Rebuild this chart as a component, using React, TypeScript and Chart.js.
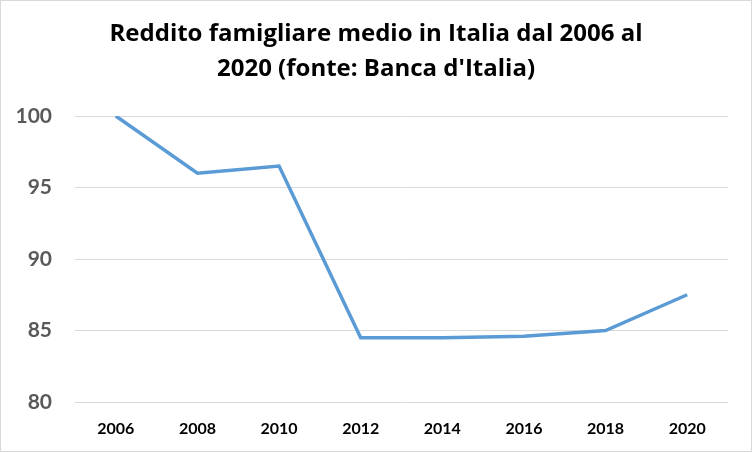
import React, { useEffect, useRef } from "react";
import { Chart, registerables } from "chart.js";

Chart.register(...registerables);

const years = ["2006", "2008", "2010", "2012", "2014", "2016", "2018", "2020"];
const income = [100, 96, 96.5, 84.5, 84.5, 84.6, 85, 87.5];
const yMin = 80;
const yMax = 100;
const yStep = 5;
const titleLines = ["Reddito famigliare medio in Italia dal 2006 al", "2020 (fonte: Banca d'Italia)"];

export default function App() {
  const ref = useRef<HTMLCanvasElement>(null);
  useEffect(() => {
    document.body.style.margin = "0";
    const ctx = ref.current!;
    const chart = new Chart(ctx, {
      type: "line",
      data: {
        labels: years,
        datasets: [
          {
            data: income,
            borderColor: "#5B9BD5",
            borderWidth: 3.5,
            pointRadius: 0,
            tension: 0,
            fill: false,
          },
        ],
      },
      options: {
        animation: false,
        responsive: false,
        maintainAspectRatio: false,
        layout: { padding: { left: 0, right: 0, top: 0, bottom: 0 } },
        plugins: {
          legend: { display: false },
          tooltip: { enabled: false },
          title: {
            display: true,
            text: titleLines,
            color: "#000000",
            font: { family: "'Open Sans', Lato, sans-serif", size: 24, weight: "bold", lineHeight: 35 / 24 },
            padding: { top: 15.5, bottom: 29.5 },
          },
        },
        scales: {
          x: {
            offset: true,
            grid: { display: false, drawTicks: false },
            border: { display: false },
            afterFit: (scale: any) => {
              scale.height = 49;
            },
            ticks: {
              color: "#000000",
              font: { family: "Lato, 'Open Sans', sans-serif", size: 16, weight: "bold" },
              padding: 17,
              maxRotation: 0,
            },
          },
          y: {
            min: yMin,
            max: yMax,
            afterFit: (scale: any) => {
              scale.width = 74;
            },
            grid: { color: "#d9d9d9", lineWidth: 1, drawTicks: false },
            border: { display: false },
            ticks: {
              stepSize: yStep,
              color: "#595959",
              font: { family: "Lato, 'Open Sans', sans-serif", size: 21, weight: "bold" },
              padding: 23,
            },
          },
          yRightSpace: {
            position: "right",
            min: yMin,
            max: yMax,
            afterFit: (scale: any) => {
              scale.width = 23;
            },
            grid: { display: false, drawTicks: false },
            border: { display: false },
            ticks: { display: false },
          },
        },
      },
    });
    return () => chart.destroy();
  }, []);
  return (
    <div
      style={{
        position: "fixed",
        left: 0,
        top: 0,
        width: 752,
        height: 452,
        boxSizing: "border-box",
        border: "1px solid #d9d9d9",
        background: "#ffffff",
      }}
    >
      <canvas ref={ref} width={750} height={450} style={{ display: "block" }} />
    </div>
  );
}
